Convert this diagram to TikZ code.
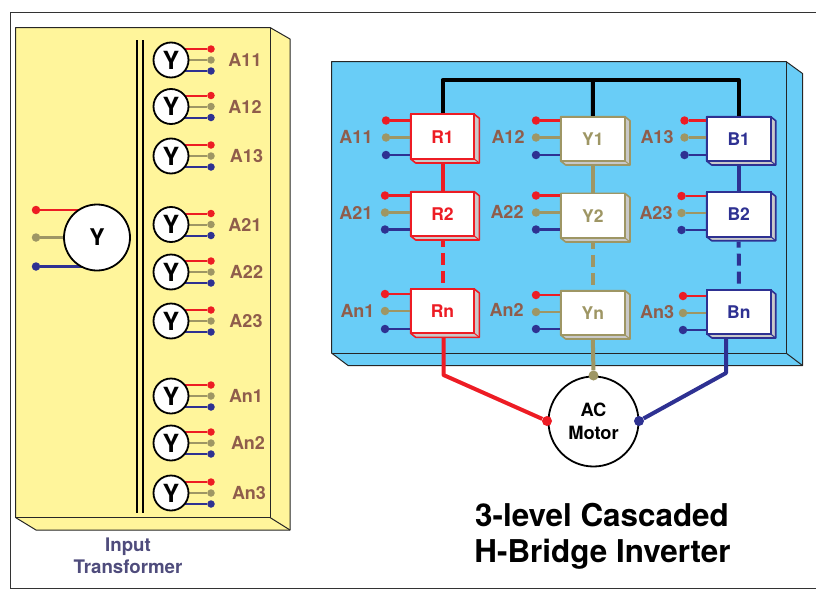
\documentclass[tikz,border=0pt]{standalone}
\usepackage{fontspec}
\setmainfont{TeX Gyre Heros}
\definecolor{panelyellow}{HTML}{FFF59B}
\definecolor{panelblue}{HTML}{69CDF7}
\definecolor{cred}{HTML}{ED1C24}
\definecolor{ctan}{HTML}{9E9664}
\definecolor{cnavy}{HTML}{2E3192}
\definecolor{cbrown}{HTML}{8F5D4B}
\definecolor{cinput}{HTML}{4F4C7C}
\definecolor{cside}{HTML}{C9C9C9}
\tikzset{
  x=1pt,y=-1pt,
  panel/.style={draw=black!85,line width=1pt,line join=round},
  pindot/.style={circle,fill=#1,inner sep=0pt,minimum size=8.5pt},
  minidot/.style={circle,fill=#1,inner sep=0pt,minimum size=7.5pt},
  wyesmall/.style={circle,draw=black,line width=1.8pt,fill=white,inner sep=0pt,minimum size=35pt,font=\fontsize{25}{25}\selectfont\bfseries},
  wyebig/.style={circle,draw=black,line width=1.8pt,fill=white,inner sep=0pt,minimum size=66pt,font=\fontsize{23}{23}\selectfont\bfseries},
  tag/.style={text=cbrown,inner sep=0pt,font=\fontsize{18}{18}\selectfont\bfseries},
  blk/.style={draw=#1,text=#1,fill=white,line width=1.8pt,inner sep=0pt,font=\fontsize{17.5}{18}\selectfont\bfseries},
  thin lead/.style={line width=2pt},
  lead/.style={line width=2.2pt},
  pinlead/.style={line width=2.8pt},
  link/.style={line width=4pt},
  dashlink/.style={line width=4pt,dash pattern=on 12pt off 6pt,dash phase=6pt},
}
% secondary winding: name, centre y, label x, label
\newcommand{\wye}[4]{%
  \node[minidot=cred]  (#1r) at (211,#2-11) {};
  \node[minidot=ctan]  (#1t) at (211,#2) {};
  \node[minidot=cnavy] (#1b) at (211,#2+11) {};
  \coordinate (#1c) at (171,#2);
  \draw[thin lead,cred]  (#1r) -- (#1c |- #1r);
  \draw[thin lead,ctan]  (#1t) -- (#1c);
  \draw[thin lead,cnavy] (#1b) -- (#1c |- #1b);
  \node[wyesmall] (#1) at (#1c) {Y};
  \node[tag] (#1l) at (#3,#2) {#4};
}
% block: name, x1,y1,x2,y2, colour, label
\newcommand{\blockb}[7]{%
  \draw[#6,line width=1.6pt,fill=cside,line join=round]
    (#2,#3) -- (#4,#3) -- (#4+5,#3+4) -- (#4+5,#5+4) -- (#2+5,#5+4) -- (#2,#5) -- cycle;
  \draw[#6,line width=1pt] (#4,#5) -- (#4+5,#5+4);
  \pgfmathsetmacro{\bw}{#4-#2}\pgfmathsetmacro{\bh}{#5-#3}
  \node[blk=#6,minimum width=\bw pt,minimum height=\bh pt] (#1) at ({(#2+#4)/2},{(#3+#5)/2}) {#7};
}
% input pins: block, dot x, y1, y2, y3, label x, label y, label
\newcommand{\pins}[8]{%
  \node[pindot=cred]  (#1r) at (#2,#3) {};
  \node[pindot=ctan]  (#1t) at (#2,#4) {};
  \node[pindot=cnavy] (#1b) at (#2,#5) {};
  \draw[pinlead,cred]  (#1r) -- (#1.west |- #1r);
  \draw[pinlead,ctan]  (#1t) -- (#1.west |- #1t);
  \draw[pinlead,cnavy] (#1b) -- (#1.west |- #1b);
  \node[tag] (#1l) at (#6,#7) {#8};
}
\begin{document}
\begin{tikzpicture}
\useasboundingbox (0,0) rectangle (816,589);
% outer frame
\draw[black!80,line width=1pt] (830,12.5) -- (10.5,12.5) -- (10.5,588) -- (830,588);
% transformer panel
\draw[panel,fill=panelyellow] (15.5,27.5) -- (270,27.5) -- (290,39) -- (290,530) -- (36,530) -- (15.5,517.5) -- cycle;
\draw[panel] (15.5,517.5) -- (270,517.5) -- (270,27.5);
\draw[panel] (270,517.5) -- (290,530);
% core
\draw[black,line width=1.7pt] (137,40) -- (137,513);
\draw[black,line width=1.7pt] (143,40) -- (143,513);
% primary
\node[pindot=cred]  (pr) at (36,210) {};
\node[pindot=ctan]  (pt) at (36,237.5) {};
\node[pindot=cnavy] (pb) at (36,266.5) {};
\coordinate (pc) at (97,237.5);
\draw[lead,cred]  (pr) -- (pc |- pr);
\draw[lead,ctan]  (pt) -- (pc);
\draw[lead,cnavy] (pb) -- (pc |- pb);
\node[wyebig] (prim) at (pc) {Y};
% secondaries
\wye{sa}{60}{245}{A11}
\wye{sb}{106.5}{245}{A12}
\wye{sc}{156}{246.5}{A13}
\wye{sd}{224.5}{245}{A21}
\wye{se}{272}{246.5}{A22}
\wye{sf}{321}{246}{A23}
\wye{sg}{396}{246}{An1}
\wye{sh}{443}{248}{An2}
\wye{si}{493}{249}{An3}
\node[inner sep=0pt,text=cinput,anchor=base,font=\fontsize{18.7}{19}\selectfont\bfseries] (inp) at (128,551) {Input};
\node[inner sep=0pt,text=cinput,anchor=base,font=\fontsize{18.7}{19}\selectfont\bfseries] (trf) at (128,573) {Transformer};
% inverter panel
\draw[panel,fill=panelblue] (331.5,61.5) -- (786,61.5) -- (802.5,73.5) -- (802.5,365.5) -- (348,365.5) -- (331.5,353) -- cycle;
\draw[panel] (331.5,353) -- (786,353) -- (786,61.5);
\draw[panel] (786,353) -- (802.5,365.5);
% blocks
\blockb{R1}{410.7}{114.3}{474.3}{159}{cred}{R1}
\blockb{R2}{410.7}{191.7}{474.3}{236}{cred}{R2}
\blockb{Rn}{410.7}{289}{474.3}{333.3}{cred}{Rn}
\blockb{Y1}{560.7}{116.7}{625}{161}{ctan}{Y1}
\blockb{Y2}{560.7}{193.5}{625}{238}{ctan}{Y2}
\blockb{Yn}{560.7}{290.7}{625}{335}{ctan}{Yn}
\blockb{B1}{706.7}{116.7}{770.7}{161}{cnavy}{B1}
\blockb{B2}{706.7}{192.3}{770.7}{236.7}{cnavy}{B2}
\blockb{Bn}{707}{290}{770.7}{334}{cnavy}{Bn}
% input pins
\pins{R1}{386}{120.5}{137.5}{155}{356}{137}{A11}
\pins{R2}{385}{195.5}{212.5}{229.5}{356}{213}{A21}
\pins{Rn}{385}{294}{311}{329}{357.5}{311}{An1}
\pins{Y1}{536}{120.5}{137.5}{155}{508}{137}{A12}
\pins{Y2}{536}{195.5}{212.5}{229.5}{507}{212}{A22}
\pins{Yn}{536}{295}{312}{329}{506.5}{310}{An2}
\pins{B1}{684.5}{120.5}{137.5}{155}{657}{137}{A13}
\pins{B2}{681.5}{196}{213}{230}{656}{213}{A23}
\pins{Bn}{683}{296}{313}{330}{657}{312}{An3}
% DC bus
\coordinate (busY) at (593,80);
\draw[link,black,line join=round] (R1.north) -- (R1.north |- busY) -- (B1.north |- busY) -- (B1.north);
\draw[link,black] (busY) -- (Y1.north);
% string links
\draw[link,cred] (R1.south) ++(0,4) -- (R2.north);
\draw[link,ctan] (Y1.south) ++(0,4) -- (Y2.north);
\draw[link,cnavy] (B1.south) ++(0,4) -- (B2.north);
\draw[dashlink,cred] (R2.south) ++(0,4) -- (Rn.north);
\draw[dashlink,ctan] (Y2.south) ++(0,4) -- (Yn.north);
\draw[dashlink,cnavy] (B2.south) ++(0,4) -- (Bn.north);
% motor
\node[circle,draw=black,line width=1.8pt,fill=white,minimum size=90pt,inner sep=0pt,align=center,font=\fontsize{18.3}{23}\selectfont\bfseries] (motor) at (593.5,421.5) {AC\\Motor};
\coordinate (kr) at (443.5,375);
\coordinate (kb) at (726,373);
\node[pindot=cred,minimum size=10pt]  (mr) at (547,421) {};
\node[pindot=ctan,minimum size=10pt]  (mt) at (593.5,375.5) {};
\node[pindot=cnavy,minimum size=10pt] (mb) at (639,421) {};
\begin{scope}[line join=round]
\draw[link,cred]  (Rn.south -| kr) ++(0,4) -- (kr) -- (mr);
\draw[link,ctan]  (Yn.south) ++(0,4) -- (mt);
\draw[link,cnavy] (Bn.south -| kb) ++(0,4) -- (kb) -- (mb);
\end{scope}
% title
\node[inner sep=0pt,anchor=base,font=\fontsize{31.4}{32}\selectfont\bfseries] (t1) at (602,526) {3-level Cascaded};
\node[inner sep=0pt,anchor=base,font=\fontsize{31.4}{32}\selectfont\bfseries] (t2) at (602.5,562) {H-Bridge Inverter};
\end{tikzpicture}
\end{document}
